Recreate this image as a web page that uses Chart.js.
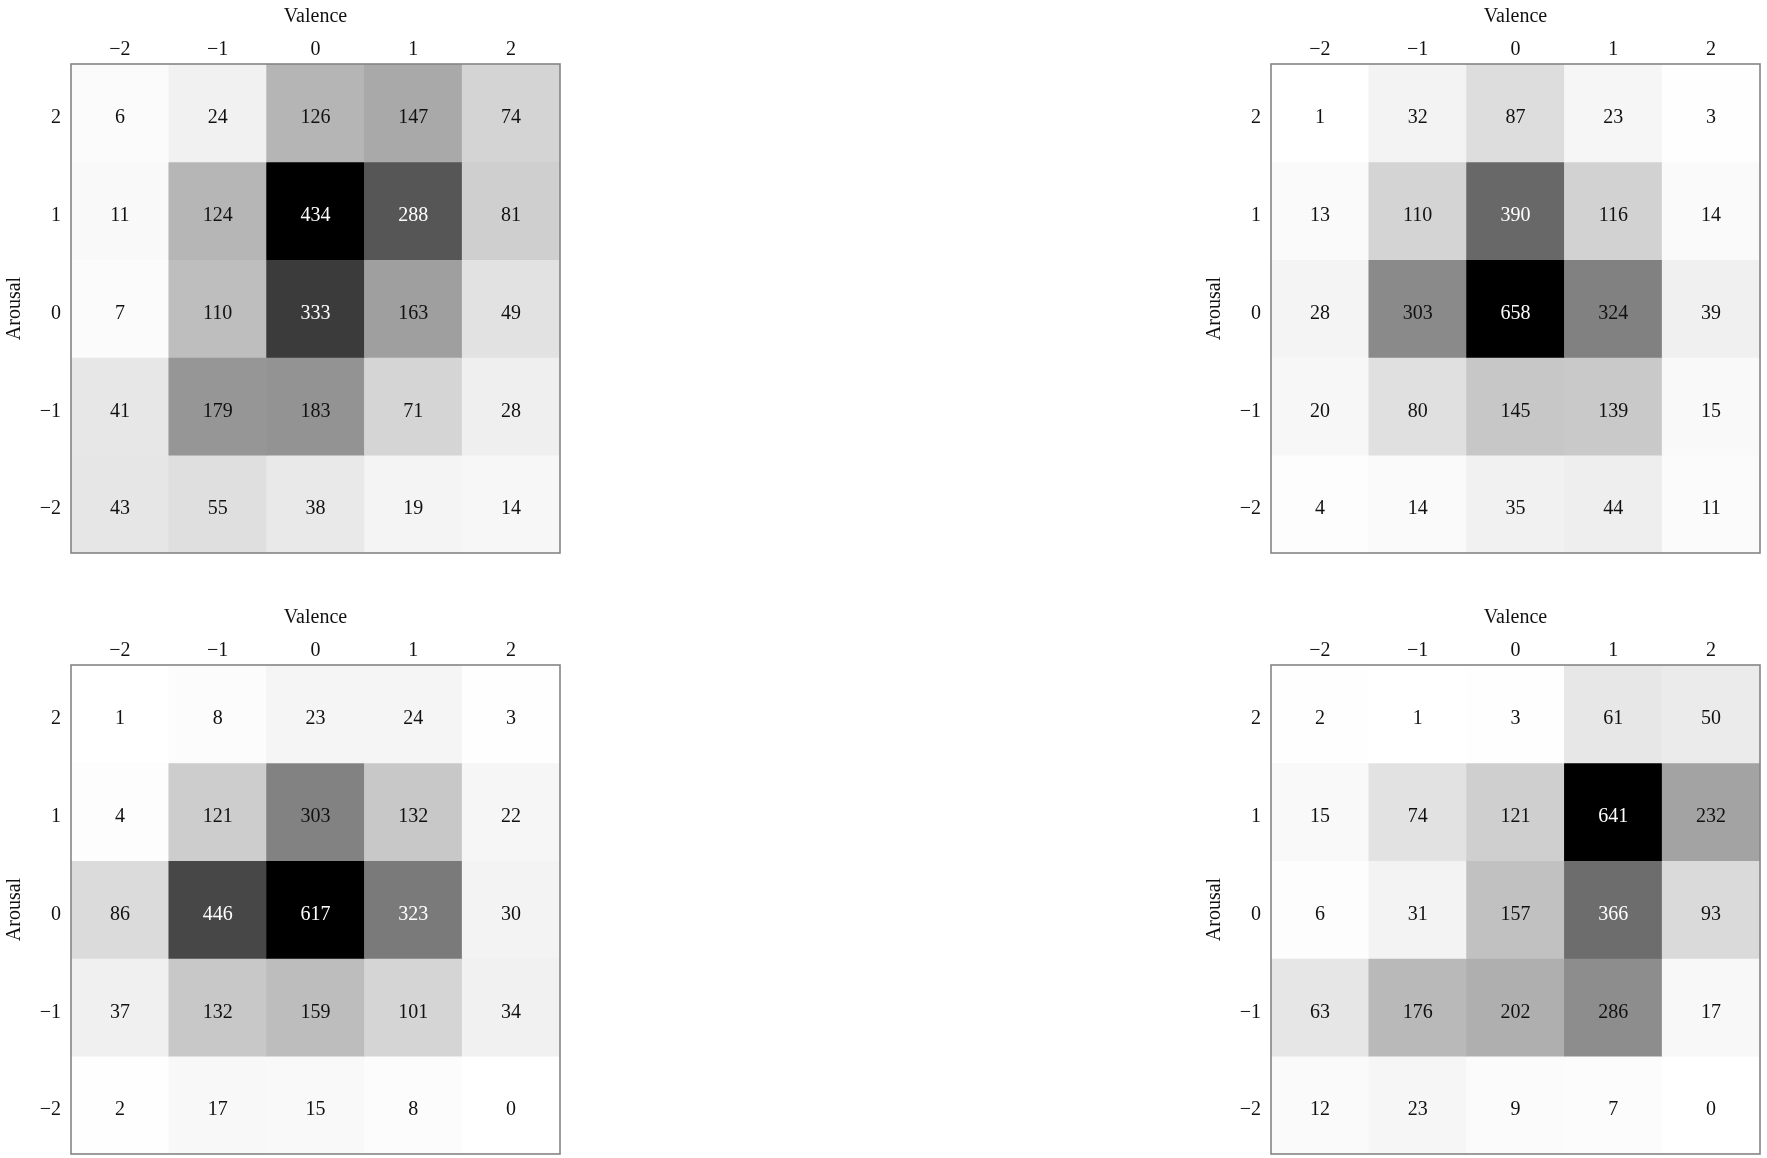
<!DOCTYPE html>
<html lang="en">
<head>
<meta charset="UTF-8">
<title>Valence / Arousal counts</title>
<script src="https://cdn.jsdelivr.net/npm/chart.js@4"></script>
<style>
    body { margin: 0; background: #fff; width: 1767px; height: 1158px; overflow: hidden; }
    .panel { position: absolute; }
</style>
</head>
<body>
<div class="panel" style="left:0px;top:0px"><canvas id="chartTL" width="562" height="556"></canvas></div>
<div class="panel" style="left:1200px;top:0px"><canvas id="chartTR" width="562" height="556"></canvas></div>
<div class="panel" style="left:0px;top:601px"><canvas id="chartBL" width="562" height="556"></canvas></div>
<div class="panel" style="left:1200px;top:601px"><canvas id="chartBR" width="562" height="556"></canvas></div>

<script>
// axis categories
const valence = [-2, -1, 0, 1, 2];
const arousal = [2, 1, 0, -1, -2];   // top row first

// counts, one row per arousal level (2 .. -2), columns valence -2 .. 2
const countsTL = [
    [6, 24, 126, 147, 74],
    [11, 124, 434, 288, 81],
    [7, 110, 333, 163, 49],
    [41, 179, 183, 71, 28],
    [43, 55, 38, 19, 14]
];
const countsTR = [
    [1, 32, 87, 23, 3],
    [13, 110, 390, 116, 14],
    [28, 303, 658, 324, 39],
    [20, 80, 145, 139, 15],
    [4, 14, 35, 44, 11]
];
const countsBL = [
    [1, 8, 23, 24, 3],
    [4, 121, 303, 132, 22],
    [86, 446, 617, 323, 30],
    [37, 132, 159, 101, 34],
    [2, 17, 15, 8, 0]
];
const countsBR = [
    [2, 1, 3, 61, 50],
    [15, 74, 121, 641, 232],
    [6, 31, 157, 366, 93],
    [63, 176, 202, 286, 17],
    [12, 23, 9, 7, 0]
];

const FONT = "'Liberation Serif', 'DejaVu Serif', serif";

function fmt(v) {
    return v < 0 ? '\u2212' + (-v) : String(v);
}

function grey(v, max) {
    const g = Math.round(255 * (1 - v / max));
    return `rgb(${g}, ${g}, ${g})`;
}

// draws the counts in the middle of each cell and the frame round the plot
const cellText = {
    id: 'cellText',
    afterDatasetsDraw(chart) {
        const counts = chart.options.plugins.cellText.counts;
        const max = Math.max(...counts.flat());
        const ctx = chart.ctx;
        ctx.save();
        ctx.font = `20px ${FONT}`;
        ctx.textAlign = 'center';
        ctx.textBaseline = 'middle';
        chart.data.datasets.forEach((ds, i) => {
            chart.getDatasetMeta(i).data.forEach((bar, j) => {
                const v = counts[i][j];
                const p = bar.getCenterPoint();
                ctx.fillStyle = v / max > 0.5 ? '#fff' : '#111';
                ctx.fillText(String(v), p.x, p.y + 5);
            });
        });
        const a = chart.chartArea;
        ctx.strokeStyle = '#858585';
        ctx.lineWidth = 1.6;
        ctx.strokeRect(a.left, a.top, a.right - a.left, a.bottom - a.top);
        ctx.restore();
    }
};

function makeHeatmap(id, counts) {
    const max = Math.max(...counts.flat());
    const datasets = arousal.map((a, i) => ({
        label: 'Arousal ' + a,
        data: valence.map(() => [a - 0.5, a + 0.5]),
        backgroundColor: (c) => grey(counts[i][c.dataIndex], max),
        borderWidth: 0,
        barPercentage: 1,
        categoryPercentage: 1,
        grouped: false
    }));

    return new Chart(document.getElementById(id).getContext('2d'), {
        type: 'bar',
        data: { labels: valence.map(fmt), datasets: datasets },
        options: {
            responsive: false,
            animation: false,
            devicePixelRatio: 1,
            layout: { padding: { left: 0, top: 0, right: 2, bottom: 3 } },
            plugins: {
                legend: { display: false },
                tooltip: { enabled: false },
                cellText: { counts: counts }
            },
            scales: {
                x: {
                    position: 'top',
                    grid: { display: false, drawTicks: false },
                    border: { display: false },
                    ticks: { color: '#111', padding: 2, font: { family: FONT, size: 20 } },
                    title: { display: true, text: 'Valence', color: '#111', padding: { top: 5, bottom: 0 }, font: { family: FONT, size: 20 } },
                    afterFit: (s) => { s.height = 64; s.paddingLeft = 0; s.paddingRight = 0; }
                },
                y: {
                    type: 'linear',
                    min: -2.5,
                    max: 2.5,
                    grid: { display: false, drawTicks: false },
                    border: { display: false },
                    afterBuildTicks: (s) => { s.ticks = arousal.map(v => ({ value: v })); },
                    ticks: { color: '#111', padding: 10, labelOffset: 5, font: { family: FONT, size: 20 }, callback: (v) => fmt(v) },
                    title: { display: true, text: 'Arousal', color: '#111', padding: { top: 3, bottom: 0 }, font: { family: FONT, size: 20 } },
                    afterFit: (s) => { s.width = 71; s.paddingTop = 0; s.paddingBottom = 0; }
                }
            }
        },
        plugins: [cellText]
    });
}

makeHeatmap('chartTL', countsTL);
makeHeatmap('chartTR', countsTR);
makeHeatmap('chartBL', countsBL);
makeHeatmap('chartBR', countsBR);
</script>
</body>
</html>
